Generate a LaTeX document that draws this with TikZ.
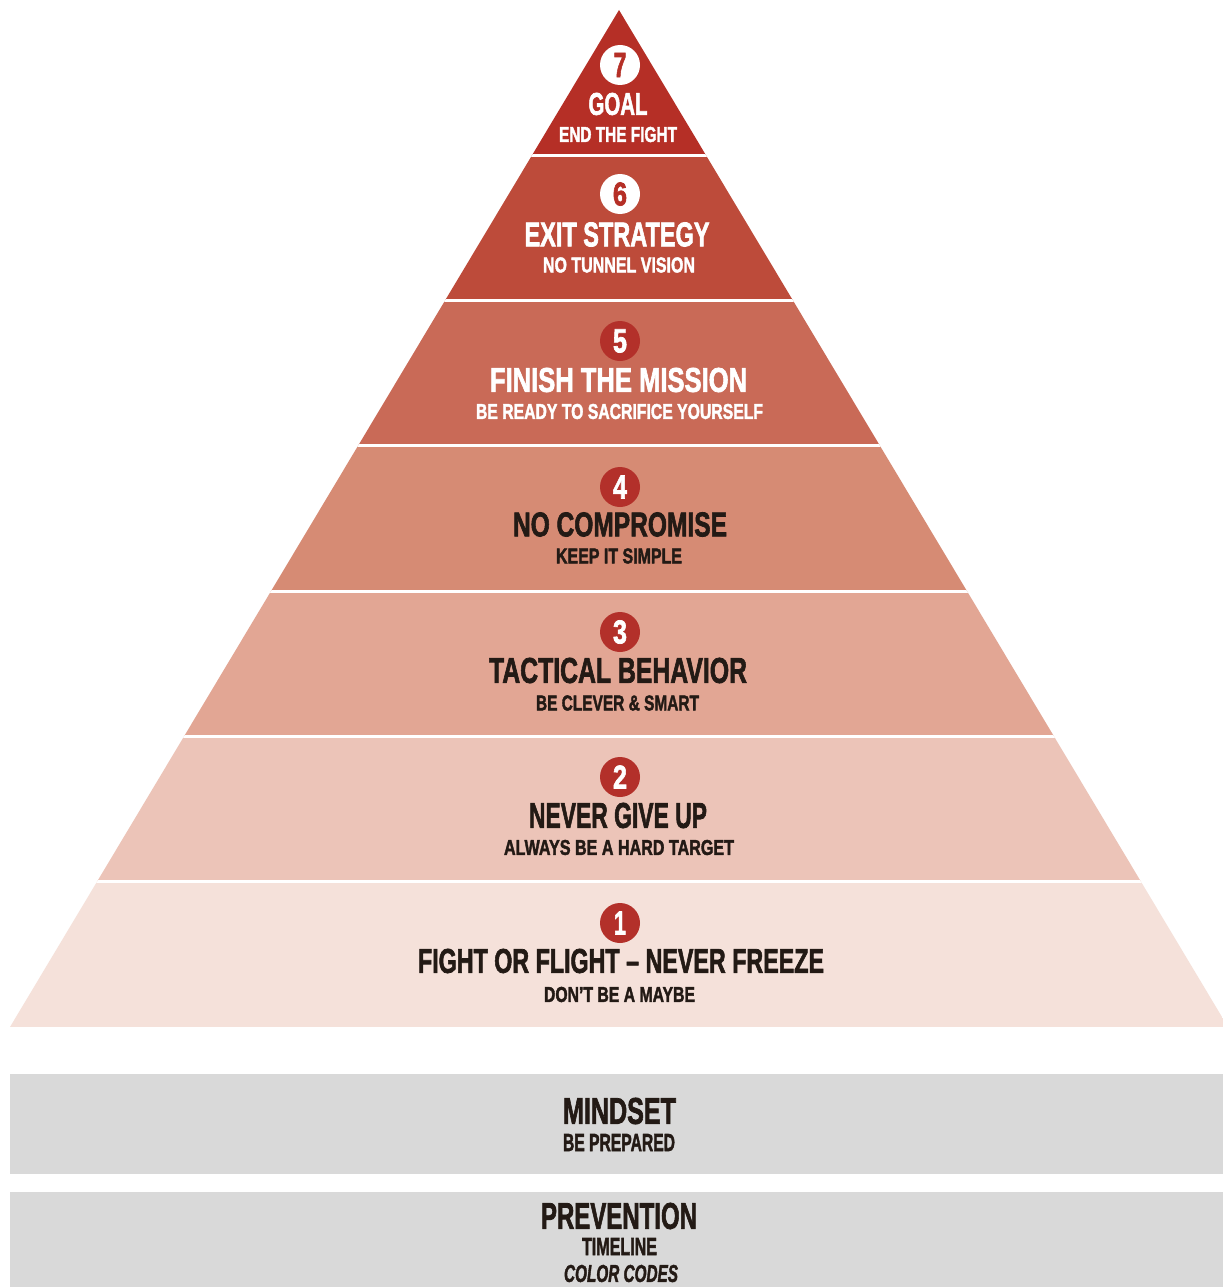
\documentclass[tikz,border=0pt]{standalone}
\usepackage{fontspec}
\usepackage{graphicx}
\setmainfont{Liberation Sans}
\newfontfamily\heavy[FakeBold=2.2]{Liberation Sans Bold}
\newfontfamily\heavyit[FakeBold=2.2]{Liberation Sans Bold Italic}
\definecolor{b7}{HTML}{B52F26}
\definecolor{b6}{HTML}{BD4B3A}
\definecolor{b5}{HTML}{C96A57}
\definecolor{b4}{HTML}{D68B74}
\definecolor{b3}{HTML}{E2A694}
\definecolor{b2}{HTML}{ECC4B8}
\definecolor{b1}{HTML}{F5E1DA}
\definecolor{graybox}{HTML}{D9D9D9}
\definecolor{circred}{HTML}{B3302A}
\definecolor{darktxt}{HTML}{231A15}
\newcommand{\fitt}[3]{\resizebox{#1pt}{#2pt}{\heavy #3}}
\newcommand{\fitti}[3]{\resizebox{#1pt}{#2pt}{\heavyit #3}}
\tikzset{
  lbl/.style={inner sep=0pt, outer sep=0pt, anchor=center},
  wcirc/.style={circle, fill=white, minimum size=40pt, inner sep=0pt, text=b7},
  rcirc/.style={circle, fill=circred, minimum size=40pt, inner sep=0pt, text=white},
}
\begin{document}
\begin{tikzpicture}[x=1pt,y=-1pt]
\useasboundingbox (0,0) rectangle (1223,1287);
\clip (0,0) rectangle (1223,1287);
\fill[white] (0,0) rectangle (1223,1287);
% pyramid bands
\begin{scope}
  \clip (619,10) -- (1228,1027) -- (10,1027) -- cycle;
  \fill[b7] (0,0) rectangle (1223,155.3);
  \fill[b6] (0,155.3) rectangle (1223,300.6);
  \fill[b5] (0,300.6) rectangle (1223,445.9);
  \fill[b4] (0,445.9) rectangle (1223,591.1);
  \fill[b3] (0,591.1) rectangle (1223,736.4);
  \fill[b2] (0,736.4) rectangle (1223,881.7);
  \fill[b1] (0,881.7) rectangle (1223,1027);
  \foreach \yy in {155.3,300.6,445.9,591.1,736.4,881.7}
    \draw[white, line width=3pt] (0,\yy) -- (1223,\yy);
\end{scope}
% gray boxes
\fill[graybox] (10,1074) rectangle (1223,1174);
\fill[graybox] (10,1192) rectangle (1223,1287);
% level 7
\node[wcirc] (c7) at (620,65) {\fitt{13}{24}{7}};
\node[lbl, text=white] (t7) at (618,104) {\fitt{59}{22}{GOAL}};
\node[lbl, text=white] (s7) at (618,134.5) {\fitt{118}{15}{END THE FIGHT}};
% level 6
\node[wcirc] (c6) at (620,194) {\fitt{14}{23}{6}};
\node[lbl, text=white] (t6) at (617,234.5) {\fitt{185}{24}{EXIT STRATEGY}};
\node[lbl, text=white] (s6) at (619,265) {\fitt{152}{15}{NO TUNNEL VISION}};
% level 5
\node[rcirc] (c5) at (620,341) {\fitt{14}{23}{5}};
\node[lbl, text=white] (t5) at (618.5,380) {\fitt{257}{24}{FINISH THE MISSION}};
\node[lbl, text=white] (s5) at (619.5,411.5) {\fitt{287}{15}{BE READY TO SACRIFICE YOURSELF}};
% level 4
\node[rcirc] (c4) at (620,487) {\fitt{14}{23}{4}};
\node[lbl, text=darktxt] (t4) at (620,524.5) {\fitt{214}{24}{NO COMPROMISE}};
\node[lbl, text=darktxt] (s4) at (619,556) {\fitt{126}{15}{KEEP IT SIMPLE}};
% level 3
\node[rcirc] (c3) at (620,632) {\fitt{14}{23}{3}};
\node[lbl, text=darktxt] (t3) at (618,670.5) {\fitt{258}{25}{TACTICAL BEHAVIOR}};
\node[lbl, text=darktxt] (s3) at (617.5,703) {\fitt{163}{15}{BE CLEVER \& SMART}};
% level 2
\node[rcirc] (c2) at (620,777) {\fitt{14}{23}{2}};
\node[lbl, text=darktxt] (t2) at (618,815.5) {\fitt{178}{25}{NEVER GIVE UP}};
\node[lbl, text=darktxt] (s2) at (619,847.5) {\fitt{230}{15}{ALWAYS BE A HARD TARGET}};
% level 1
\node[rcirc] (c1) at (620,923) {\fitt{12}{23}{1}};
\node[lbl, text=darktxt] (t1) at (621,961) {\fitt{406}{24}{FIGHT OR FLIGHT – NEVER FREEZE}};
\node[lbl, text=darktxt] (s1) at (619.5,994.5) {\fitt{151}{15}{DON’T BE A MAYBE}};
% mindset
\node[lbl, text=darktxt] (m1) at (619.5,1111) {\fitt{113}{26}{MINDSET}};
\node[lbl, text=darktxt] (m2) at (619,1142.5) {\fitt{112}{17}{BE PREPARED}};
% prevention
\node[lbl, text=darktxt] (p1) at (619,1216) {\fitt{156}{26}{PREVENTION}};
\node[lbl, text=darktxt] (p2) at (619.5,1246.5) {\fitt{75}{17}{TIMELINE}};
\node[lbl, text=darktxt] (p3) at (621,1273.5) {\fitti{114}{17}{COLOR CODES}};
\end{tikzpicture}
\end{document}
